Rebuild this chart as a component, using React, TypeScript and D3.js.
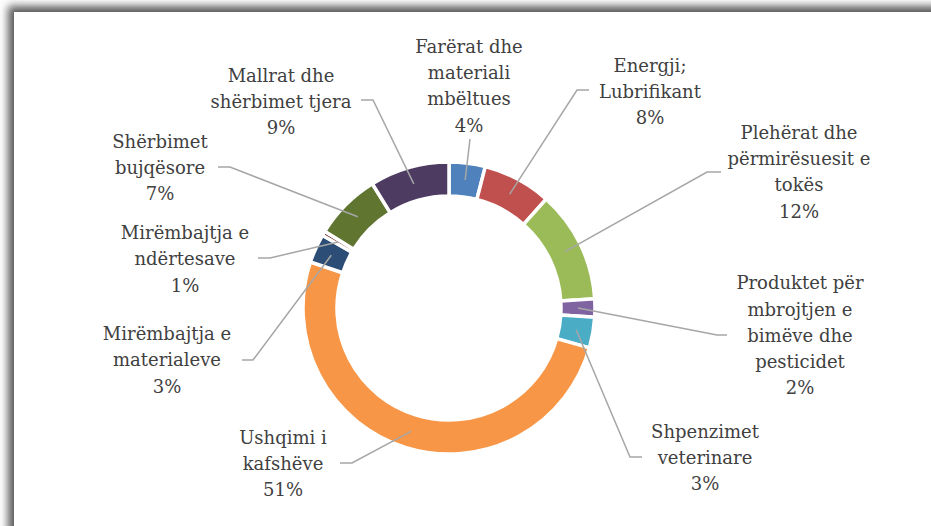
import * as d3 from "d3";
import { useEffect, useRef } from "react";

// shares of the cost categories (percent), read from the donut
const categories = [
  "Farërat dhe materiali mbëltues",
  "Energji; Lubrifikant",
  "Plehërat dhe përmirësuesit e tokës",
  "Produktet për mbrojtjen e bimëve dhe pesticidet",
  "Shpenzimet veterinare",
  "Ushqimi i kafshëve",
  "Mirëmbajtja e materialeve",
  "Mirëmbajtja e ndërtesave",
  "Shërbimet bujqësore",
  "Mallrat dhe shërbimet tjera",
];
const values = [4.0, 7.6, 12.4, 2.0, 3.4, 50.7, 3.2, 0.5, 7.4, 8.8];
const labelLines = [
  ["Farërat dhe", "materiali", "mbëltues"],
  ["Energji;", "Lubrifikant"],
  ["Plehërat dhe", "përmirësuesit e", "tokës"],
  ["Produktet për", "mbrojtjen e", "bimëve dhe", "pesticidet"],
  ["Shpenzimet", "veterinare"],
  ["Ushqimi i", "kafshëve"],
  ["Mirëmbajtja e", "materialeve"],
  ["Mirëmbajtja e", "ndërtesave"],
  ["Shërbimet", "bujqësore"],
  ["Mallrat dhe", "shërbimet tjera"],
];
const colors = ["#4F81BD", "#C0504D", "#9BBB59", "#8064A2", "#4BACC6", "#F79646", "#2C4D75", "#772C2A", "#5F7530", "#4D3B62"];

// label placement: text block centre (cx, cy), leader end near text (ex, ey), elbow run
const layout = [
  { cx: 469, cy: 86, ex: 470, ey: 139, run: 0 },
  { cx: 650, cy: 91.5, ex: 589, ey: 90, run: -12 },
  { cx: 799, cy: 172, ex: 721, ey: 172, run: -14 },
  { cx: 800, cy: 335.5, ex: 727, ey: 335, run: -10 },
  { cx: 705, cy: 457.5, ex: 642, ey: 457, run: -12 },
  { cx: 283, cy: 463.5, ex: 340, ey: 463, run: 12 },
  { cx: 167, cy: 360, ex: 242, ey: 360, run: 11 },
  { cx: 185, cy: 259, ex: 258, ey: 258, run: 12 },
  { cx: 160, cy: 167.5, ex: 218, ey: 167, run: 12 },
  { cx: 281, cy: 101.5, ex: 361, ey: 100, run: 12 },
];

export default function App() {
  const svgRef = useRef(null);
  const width = 931;
  const height = 526;
  const cx = 449;
  const cy = 308;
  const lineH = 26.3;

  useEffect(() => {
    const svg = d3.select(svgRef.current);
    svg.selectAll("*").remove();

    const defs = svg.append("defs");
    const f = defs.append("filter").attr("id", "shadow").attr("x", "-5%").attr("y", "-5%").attr("width", "110%").attr("height", "110%");
    f.append("feGaussianBlur").attr("stdDeviation", 4);

    svg.append("rect").attr("width", width).attr("height", height).attr("fill", "#fff");
    svg.append("rect")
      .attr("x", 8).attr("y", 6).attr("width", 1000).attr("height", 700)
      .attr("fill", "#5a5a5a").attr("filter", "url(#shadow)");
    svg.append("rect")
      .attr("x", 14).attr("y", 12).attr("width", 1000).attr("height", 700)
      .attr("fill", "#fff");

    const pie = d3.pie<number>().sort(null).value(d => d);
    const arcs = pie(values);
    const arc = d3.arc<d3.PieArcDatum<number>>().innerRadius(112).outerRadius(146);

    const g = svg.append("g").attr("transform", `translate(${cx},${cy})`);
    g.selectAll("path")
      .data(arcs)
      .join("path")
      .attr("d", arc)
      .attr("fill", (d, i) => colors[i])
      .attr("stroke", "#fff")
      .attr("stroke-width", 3.5)
      .attr("stroke-linejoin", "miter");

    // leader lines
    arcs.forEach((d, i) => {
      const [px, py] = arc.centroid(d);
      const l = layout[i];
      const pts = [[px + cx, py + cy]];
      if (l.run !== 0) pts.push([l.ex + l.run, l.ey]);
      pts.push([l.ex, l.ey]);
      svg.append("path")
        .attr("d", d3.line()(pts as [number, number][]))
        .attr("fill", "none")
        .attr("stroke", "#A6A6A6")
        .attr("stroke-width", 1.5);
    });

    // labels
    arcs.forEach((d, i) => {
      const l = layout[i];
      const lines = [...labelLines[i], `${Math.round(values[i])}%`];
      const top = l.cy - ((lines.length - 1) * lineH) / 2;
      const t = svg.append("text")
        .attr("text-anchor", "middle")
        .attr("font-family", "DejaVu Serif")
        .attr("font-size", 18)
        .attr("fill", "#404040");
      lines.forEach((s, j) => {
        t.append("tspan").attr("x", l.cx).attr("y", top + j * lineH).attr("dy", "0.35em").text(s);
      });
      t.append("title").text(categories[i]);
    });
  }, []);

  return (
    <svg
      ref={svgRef}
      width={width}
      height={height}
      viewBox={`0 0 ${width} ${height}`}
      style={{ position: "absolute", left: 0, top: 0 }}
      xmlns="http://www.w3.org/2000/svg"
    />
  );
}
